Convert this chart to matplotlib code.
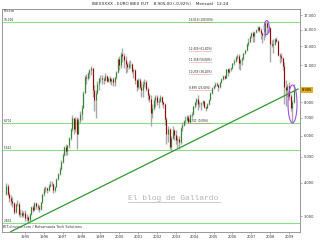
import numpy as np
import matplotlib.pyplot as plt
from matplotlib.patches import Ellipse
from matplotlib.transforms import ScaledTranslation
from matplotlib.ticker import FixedLocator, FuncFormatter, NullLocator

# monthly candles, Jan 1994 .. Apr 2009 (one row per year)
first_open = 3615
closes = [
    3880, 3640, 3510, 3420, 3350, 3110, 3320, 3340, 3050, 3090, 3020, 3090,
    2950, 2980, 2900, 3050, 3230, 3170, 3360, 3270, 3230, 3180, 3380, 3630,
    3780, 3810, 3770, 3900, 3940, 3960, 3750, 3870, 4120, 4320, 4500, 4800,
    5100, 5420, 5280, 5520, 5880, 6330, 6970, 6330, 6920, 6100, 6880, 7255,
    7650, 8700, 9950, 9900, 10310, 10580, 10800, 8930, 8150, 8640, 9400, 9840,
    9900, 9750, 9700, 10050, 9650, 9880, 9620, 9750, 9500, 9920, 10380, 11640,
    11050, 12160, 11940, 11560, 11140, 10880, 11100, 11140, 10500, 10620, 9700, 9110,
    9720, 9100, 8920, 9400, 9500, 9000, 8500, 8250, 7300, 7650, 8150, 8400,
    8000, 8100, 8350, 8000, 7900, 6950, 6100, 6350, 5420, 5900, 6300, 6040,
    5800, 5850, 5700, 6400, 6600, 6800, 6890, 7030, 6770, 7150, 7230, 7740,
    8000, 8250, 7880, 7900, 7950, 8070, 7710, 7650, 7900, 8200, 8700, 9080,
    9220, 9400, 9280, 9100, 9500, 9800, 10020, 9900, 10700, 10400, 10700, 10730,
    11200, 11480, 11850, 11900, 11200, 11550, 11720, 12200, 12570, 13200, 13480, 14150,
    14560, 14200, 14640, 14950, 15340, 14900, 14550, 14350, 14300, 15890, 15300, 15180,
    13230, 13170, 13270, 13800, 13600, 12050, 11900, 11700, 10990, 9100, 8900, 9200,
    8450, 7620, 8030, 8905,
]
highs = [
    3990, 3950, 3700, 3600, 3520, 3400, 3350, 3450, 3380, 3180, 3160, 3130,
    3150, 3050, 3000, 3090, 3260, 3300, 3400, 3390, 3330, 3300, 3400, 3640,
    3850, 3900, 3860, 3950, 4050, 4060, 4000, 3900, 4150, 4340, 4560, 4850,
    5180, 5500, 5600, 5560, 5950, 6400, 7150, 7000, 7030, 7050, 6990, 7400,
    7800, 8800, 10100, 10250, 10400, 10650, 10980, 10750, 9300, 8900, 9600, 9900,
    10150, 10100, 10000, 10300, 10150, 10000, 10020, 9900, 9980, 10000, 10450, 11700,
    11900, 12400, 12820, 12300, 11900, 11300, 11400, 11500, 11200, 10800, 10700, 9800,
    9900, 9900, 9550, 9600, 9800, 9700, 9100, 8650, 8500, 7900, 8300, 8500,
    8500, 8300, 8500, 8450, 8100, 7950, 7050, 6500, 6400, 6000, 6500, 6350,
    6300, 6000, 6000, 6450, 6750, 6900, 7100, 7150, 7150, 7220, 7380, 7750,
    8050, 8300, 8500, 8100, 8000, 8150, 8100, 7750, 7950, 8230, 8730, 9100,
    9300, 9500, 9500, 9350, 9550, 9830, 10100, 10150, 10700, 10800, 10750, 10900,
    11250, 11600, 11900, 12150, 12100, 11600, 11800, 12250, 12600, 13300, 13900, 14200,
    14700, 14800, 14700, 15100, 15500, 15400, 15200, 14700, 14600, 15950, 16040, 15500,
    15300, 13700, 13800, 13900, 14100, 13700, 12200, 12300, 11800, 11300, 9700, 9400,
    9500, 8600, 8200, 9400,
]
lows = [
    3600, 3580, 3380, 3300, 3250, 3050, 3080, 3270, 3000, 2980, 2980, 2970,
    2870, 2880, 2850, 2890, 3030, 3110, 3150, 3200, 3150, 3100, 3160, 3370,
    3580, 3700, 3650, 3720, 3860, 3890, 3650, 3700, 3850, 4080, 4280, 4450,
    4750, 5050, 5100, 5080, 5400, 5780, 6250, 6100, 6200, 5350, 6100, 6720,
    6900, 7600, 8700, 9400, 9700, 9900, 10150, 8400, 7400, 7000, 8600, 8900,
    9500, 9400, 9350, 9650, 9550, 9500, 9450, 9300, 9250, 9200, 9800, 10300,
    10600, 10800, 11300, 10800, 10300, 10400, 10700, 10800, 10300, 9900, 9400, 8800,
    8950, 8950, 8400, 8400, 9100, 8800, 8200, 8000, 6550, 7000, 7500, 7700,
    7800, 7650, 8000, 7850, 7600, 6600, 5600, 5700, 5350, 5270, 5850, 5800,
    5600, 5400, 5360, 5600, 6250, 6500, 6650, 6800, 6700, 6700, 7000, 7150,
    7650, 7850, 7500, 7700, 7500, 7800, 7600, 7450, 7600, 7800, 8150, 8600,
    8950, 9100, 9200, 8800, 9050, 9450, 9700, 9800, 9900, 10050, 10300, 10500,
    10700, 11050, 11350, 11600, 10700, 10600, 11000, 11550, 12100, 12500, 13000, 13500,
    14000, 13500, 13500, 14500, 14850, 14650, 13800, 13300, 13700, 14100, 14600, 14700,
    11300, 12900, 12200, 13100, 13500, 11900, 11200, 11300, 10600, 7900, 7750, 8400,
    8150, 7400, 6700, 7950,
]

levels = [16016, 6701, 5322, 2832]
fib_values = [16016, 12459, 11358, 10259, 8899, 6701]
fib_labels = ["16.016 (100,00%)", "12.459 (61,80%)", "11.358 (50,00%)",
              "10.259 (38,20%)", "8.899 (23,60%)", "6.701 (0,00%)"]
trend_t = [1994.242, 2009.475]
trend_v = [2620, 8976]
circle_t = [2007.816, 2009.184]
circle_v = [15264, 7890]
circle_w = [0.05, 0.09]
circle_h = [0.14, 0.38]
# 9.000 sits under the last-price box, so it is left out
yticks = [3000, 4000, 5000, 6000, 7000, 8000, 11000, 13000, 15000, 17000]
last_price = 8905

closes = np.array(closes, float)
highs = np.array(highs, float)
lows = np.array(lows, float)
opens = np.concatenate([[first_open], closes[:-1]])
t = 1994 + np.arange(len(closes)) / 12.0
up = closes >= opens

fig = plt.figure(figsize=(3.2, 2.4), dpi=100)
ax = fig.add_axes([2 / 320, 8.3 / 240, 298 / 320, 222.7 / 240])
ax.set_yscale('log')
ax.set_xlim(1993.78, 2009.581)
ax.set_ylim(2620, 17908)

# levels
for v in levels:
    ax.axhline(v, color='#88e088', lw=0.8, zorder=1)
for v in levels:
    ax.text(0.006, v, f"{v:,}".replace(',', '.'), transform=ax.get_yaxis_transform(),
            fontsize=2.1, va='bottom', ha='left', color='#222222')

# candles
ax.vlines(t, lows, highs, color='#a9a9a9', lw=1.0, zorder=2)
ax.vlines(t[up], opens[up], closes[up], color='#2f8a2f', lw=0.75, zorder=3)
ax.vlines(t[~up], opens[~up], closes[~up], color='#a00000', lw=0.75, zorder=3)

# trend line
ax.plot(trend_t, trend_v, color='#2f9a2f', lw=0.9, zorder=4)

# fibonacci labels
tr = ax.get_yaxis_transform()
for v, lab in zip(fib_values, fib_labels):
    ax.text(0.628, v, lab, transform=tr, fontsize=2.0, va='bottom', ha='left',
            color='#222222', zorder=5)
    ax.plot([0.628, 0.705], [v, v], transform=tr, color='#e04040', lw=0.4,
            ls=(0, (1, 1)), zorder=5)

# circles
for ct, cv, w, h in zip(circle_t, circle_v, circle_w, circle_h):
    e = Ellipse((0, 0), w, h, fill=False, ec='#a050e0', lw=0.8,
                transform=fig.dpi_scale_trans + ScaledTranslation(ct, cv, ax.transData),
                zorder=6)
    ax.add_artist(e)

# header strip
ax.axhline(0.98, color='#c8c8c8', lw=0.5)
ax.text(0.005, 0.99, "Precio", transform=ax.transAxes, fontsize=2.6,
        va='center', ha='left', color='#333333')

# watermark
ax.text(0.423, 0.151, "El blog de Gallardo", transform=ax.transAxes,
        fontsize=5.8, family='Liberation Mono', color='#b5b5b5', va='center', ha='left')
ax.plot([0.423, 0.733], [0.135, 0.135], transform=ax.transAxes, color='#b5b5b5', lw=0.5)

# footer
ax.text(0.004, 0.012, "BIT.dinvest.com / Bolsamania Tech Solutions", transform=ax.transAxes,
        fontsize=2.5, va='bottom', ha='left', color='#333333')

# axes
ax.yaxis.tick_right()
ax.yaxis.set_major_locator(FixedLocator(yticks))
ax.yaxis.set_minor_locator(NullLocator())
ax.yaxis.set_major_formatter(FuncFormatter(lambda v, p: f"{v:,.0f}".replace(',', '.')))
ax.set_xticks(range(1995, 2010))
ax.tick_params(axis='both', labelsize=2.6, length=1.5, width=0.4, color='#777777',
               labelcolor='#333333', pad=1)
for s in ax.spines.values():
    s.set_color('#888888')
    s.set_linewidth(0.6)

# last price box
ax.text(1.005, last_price, f"{last_price:,}".replace(',', '.'),
        transform=ax.get_yaxis_transform(), fontsize=2.6, va='center', ha='left',
        bbox=dict(boxstyle='square,pad=0.25', fc='#e5b020', ec='none'), zorder=10,
        clip_on=False)

fig.text(0.5, 0.982, "IBEXXXXX - EURO IBEX FUT    8.905,00 (-0,92%)    Mensual   12:24",
         fontsize=3.0, ha='center', va='center', color='#222222')

fig.savefig('out.png', dpi=100, facecolor='white')
